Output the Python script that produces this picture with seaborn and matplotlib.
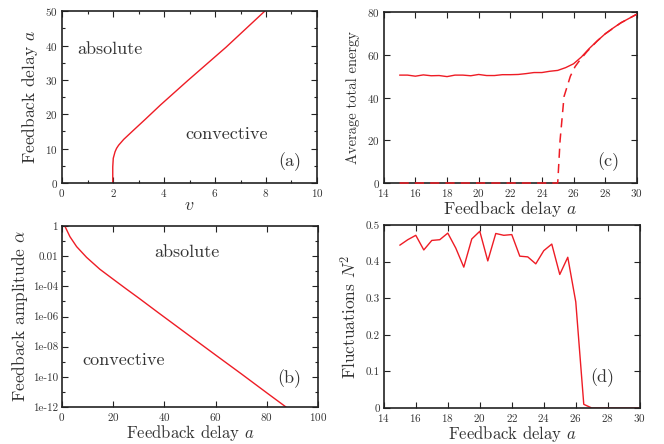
import numpy as np
import pandas as pd
import matplotlib
matplotlib.use("Agg")
import matplotlib.pyplot as plt
import seaborn as sns

# ---- panel (a): boundary in (v, a) plane
a_delay = [0, 4.7, 7.2, 9.1, 10.1, 11.0, 12.7, 15.2, 18.5, 22.7, 29.8, 39.5, 50]
a_v = [1.99, 1.99, 2.01, 2.08, 2.14, 2.22, 2.42, 2.78, 3.26, 3.86, 4.93, 6.43,
       7.95]

# ---- panel (b): feedback amplitude vs delay (log scale)
b_delay = [1.2, 3.1, 5.7, 9.6, 14.8, 20.0, 25.0, 30.0, 37.6, 50, 60, 70, 80,
           87.5]
b_alpha = [0.91, 0.195, 0.043, 8.3e-3, 1.35e-3, 2.95e-4, 6.9e-5, 1.66e-5,
           1.8e-6, 5.0e-8, 2.8e-9, 1.6e-10, 8.7e-12, 1.0e-12]
b_ticks = [1, 1e-2, 1e-4, 1e-6, 1e-8, 1e-10, 1e-12]
b_ticklabels = ["1", "0.01", "1e-04", "1e-06", "1e-08", "1e-10", "1e-12"]

# ---- panel (c): average total energy
c_delay = [15, 15.5, 16, 16.5, 17, 17.5, 18, 18.5, 19, 19.5, 20, 20.5, 21,
           21.5, 22, 22.5, 23, 23.5, 24, 24.5, 25, 25.5, 26, 26.5, 27, 27.5,
           28, 28.5, 29, 29.5, 30]
c_energy = [50.5, 50.5, 50.0, 50.6, 50.2, 50.3, 49.8, 50.5, 50.5, 50.2, 50.8,
            50.3, 50.3, 50.7, 50.7, 50.8, 51.2, 51.7, 51.7, 52.3, 52.7, 54.0,
            55.8, 59.0, 63.0, 66.5, 69.8, 72.5, 75.0, 77.0, 79.0]
c_delay_dash = [15, 16, 17, 18, 19, 20, 21, 22, 23, 24, 25, 25.15, 25.4,
                25.8, 26.1, 26.4, 26.85, 27.5, 28, 29, 30]
c_energy_dash = [0, 0, 0, 0, 0, 0, 0, 0, 0, 0, 0, 20, 40.5, 50, 54.5, 57.5,
                 61.5, 66.5, 69.8, 75.0, 79.0]

# ---- panel (d): fluctuations
d_delay = c_delay
d_fluct = [0.445, 0.460, 0.472, 0.432, 0.458, 0.460, 0.478, 0.437, 0.385,
           0.462, 0.483, 0.402, 0.477, 0.472, 0.474, 0.415, 0.413, 0.394,
           0.430, 0.448, 0.365, 0.412, 0.290, 0.010, 0.0, 0.0, 0.0, 0.0, 0.0,
           0.0, 0.0]

sns.set_style("ticks")
plt.rcParams["font.family"] = "serif"
plt.rcParams["font.serif"] = ["cmr10"]
plt.rcParams["mathtext.fontset"] = "cm"
plt.rcParams["axes.formatter.use_mathtext"] = True
plt.rcParams["axes.unicode_minus"] = False

red = "#ee1c25"
txt = "#333333"

fig = plt.figure(figsize=(6.64, 4.44), dpi=100)
ax_a = fig.add_axes([0.0934, 0.5878, 0.384, 0.387])
ax_c = fig.add_axes([0.578, 0.5878, 0.381, 0.385])
ax_b = fig.add_axes([0.0934, 0.0833, 0.3855, 0.4077])
ax_d = fig.add_axes([0.578, 0.0811, 0.3855, 0.412])


def style(ax):
    ax.tick_params(which="both", direction="in", top=True, right=True,
                   labelsize=8, labelcolor=txt, color="#222222", pad=3)
    ax.tick_params(which="major", length=4, width=0.8)
    ax.tick_params(which="minor", length=2, width=0.8)
    for s in ax.spines.values():
        s.set_linewidth(1.2)
        s.set_color("#222222")


# (a)
sns.lineplot(x=a_v, y=a_delay, ax=ax_a, color=red, lw=1, sort=False,
             estimator=None)
ax_a.set_xlim(0, 10)
ax_a.set_ylim(0, 50)
ax_a.set_xticks(range(0, 11, 2))
ax_a.set_xticks(range(0, 11, 1), minor=True)
ax_a.set_yticks(range(0, 51, 10))
ax_a.set_yticks(range(0, 51, 5), minor=True)
ax_a.set_xlabel("$v$", fontsize=13, color=txt, labelpad=-1)
ax_a.set_ylabel("Feedback delay $a$", fontsize=12.5, color=txt, labelpad=4)
ax_a.text(0.6, 39, "absolute", fontsize=13, color=txt, va="center")
ax_a.text(4.84, 14.3, "convective", fontsize=13, color=txt, va="center")
ax_a.text(8.5, 6.1, "(a)", fontsize=13, color=txt, va="center")
style(ax_a)

# (b)
sns.lineplot(x=b_delay, y=b_alpha, ax=ax_b, color=red, lw=1, sort=False,
             estimator=None)
ax_b.set_yscale("log")
ax_b.set_xlim(0, 100)
ax_b.set_ylim(1e-12, 1)
ax_b.set_xticks(range(0, 101, 20))
ax_b.set_yticks(b_ticks)
ax_b.set_yticklabels(b_ticklabels)
ax_b.yaxis.set_minor_locator(matplotlib.ticker.FixedLocator(
    [1e-1, 1e-3, 1e-5, 1e-7, 1e-9, 1e-11]))
ax_b.yaxis.set_minor_formatter(matplotlib.ticker.NullFormatter())
ax_b.set_xlabel("Feedback delay $a$", fontsize=12, color=txt, labelpad=0)
ax_b.set_ylabel("Feedback amplitude $\\alpha$", fontsize=12.5, color=txt,
                labelpad=2)
ax_b.text(36, 10**-1.72, "absolute", fontsize=13, color=txt, va="center")
ax_b.text(7.8, 10**-8.9, "convective", fontsize=13, color=txt, va="center")
ax_b.text(84, 10**-10.1, "(b)", fontsize=13, color=txt, va="center")
style(ax_b)

# (c)
sns.lineplot(x=c_delay, y=c_energy, ax=ax_c, color=red, lw=1,
             estimator=None)
sns.lineplot(x=c_delay_dash, y=c_energy_dash, ax=ax_c, color=red, lw=1.1,
             estimator=None, sort=False, linestyle=(0, (6, 4)), clip_on=False,
             zorder=5)
ax_c.set_xlim(14, 30)
ax_c.set_ylim(0, 80)
ax_c.set_xticks(range(14, 31, 2))
ax_c.set_yticks(range(0, 81, 20))
ax_c.set_xlabel("Feedback delay $a$", fontsize=12.5, color=txt, labelpad=0)
ax_c.set_ylabel("Average total energy", fontsize=10.5, color=txt, labelpad=5)
ax_c.text(27.5, 9.8, "(c)", fontsize=13, color=txt, va="center")
style(ax_c)

# (d)
sns.lineplot(x=d_delay, y=d_fluct, ax=ax_d, color=red, lw=1, estimator=None)
ax_d.set_xlim(14, 30)
ax_d.set_ylim(0, 0.5)
ax_d.set_xticks(range(14, 31, 2))
ax_d.set_yticks([0, 0.1, 0.2, 0.3, 0.4, 0.5])
ax_d.set_yticklabels(["0", "0.1", "0.2", "0.3", "0.4", "0.5"])
ax_d.set_xlabel("Feedback delay $a$", fontsize=12, color=txt, labelpad=0)
ax_d.set_ylabel("Fluctuations $N^2$", fontsize=12.5, color=txt, labelpad=4)
ax_d.text(26.9, 0.083, "(d)", fontsize=13, color=txt, va="center")
style(ax_d)

fig.savefig("out.png", dpi=100)
